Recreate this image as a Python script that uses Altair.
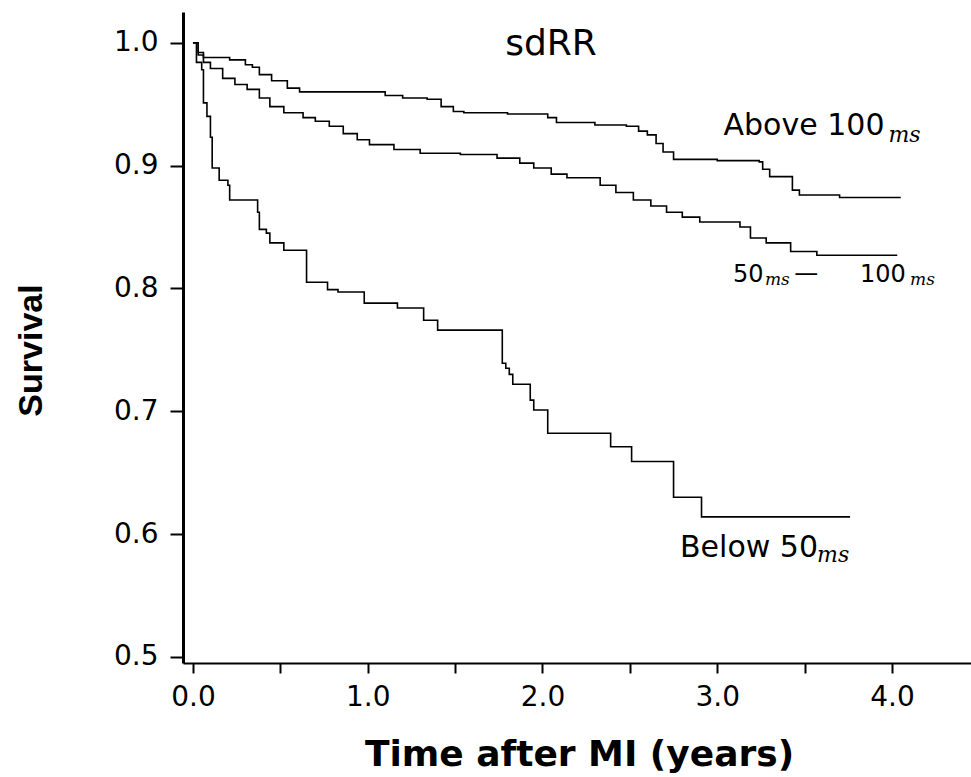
import altair as alt
import pandas as pd

# ---- data (time in years, survival fraction) ----
above_t = [0.00, 0.03, 0.06, 0.21, 0.30, 0.34, 0.38, 0.45, 0.54, 0.61, 1.01, 1.10, 1.20, 1.34,
           1.42, 1.49, 1.55, 1.80, 2.03, 2.08, 2.30, 2.48, 2.55, 2.60, 2.65, 2.69, 2.75, 3.00,
           3.24, 3.26, 3.30, 3.43, 3.47, 3.70, 4.05]
above_s = [1.000, 0.992, 0.988, 0.986, 0.982, 0.980, 0.974, 0.969, 0.963, 0.960, 0.960, 0.957,
           0.955, 0.954, 0.948, 0.944, 0.943, 0.942, 0.939, 0.935, 0.933, 0.932, 0.928, 0.925,
           0.918, 0.911, 0.905, 0.904, 0.903, 0.897, 0.891, 0.880, 0.876, 0.874, 0.874]

mid_t = [0.00, 0.03, 0.06, 0.10, 0.17, 0.24, 0.31, 0.38, 0.44, 0.52, 0.63, 0.70, 0.78, 0.86,
         0.94, 1.01, 1.15, 1.30, 1.53, 1.74, 1.87, 1.95, 2.05, 2.14, 2.33, 2.42, 2.52, 2.62,
         2.71, 2.80, 2.90, 3.13, 3.19, 3.28, 3.42, 3.57, 4.03]
mid_s = [1.000, 0.990, 0.984, 0.979, 0.971, 0.966, 0.962, 0.955, 0.948, 0.943, 0.939, 0.936,
         0.932, 0.926, 0.921, 0.917, 0.913, 0.910, 0.909, 0.906, 0.902, 0.898, 0.893, 0.890,
         0.884, 0.878, 0.872, 0.867, 0.862, 0.858, 0.854, 0.850, 0.841, 0.837, 0.830, 0.827,
         0.827]

below_t = [0.00, 0.02, 0.05, 0.06, 0.08, 0.10, 0.11, 0.15, 0.20, 0.21, 0.37, 0.38, 0.42, 0.44,
           0.52, 0.65, 0.77, 0.83, 0.98, 1.17, 1.32, 1.40, 1.77, 1.79, 1.81, 1.83, 1.93, 1.95,
           2.03, 2.39, 2.51, 2.75, 2.91, 3.76]
below_s = [1.000, 0.984, 0.978, 0.951, 0.940, 0.923, 0.898, 0.888, 0.884, 0.872, 0.862, 0.848,
           0.845, 0.837, 0.831, 0.805, 0.799, 0.797, 0.788, 0.784, 0.774, 0.766, 0.739, 0.735,
           0.730, 0.722, 0.709, 0.701, 0.682, 0.671, 0.659, 0.630, 0.614, 0.614]

x_tick_values = [0.0, 0.5, 1.0, 1.5, 2.0, 2.5, 3.0, 3.5, 4.0]
y_tick_values = [0.5, 0.6, 0.7, 0.8, 0.9, 1.0]

# annotation anchors (data units)
title_text = ["sdRR"]
title_t = [2.049]
title_s = [0.990]

main_labels = ["Above 100", "Below 50"]
main_t = [3.036, 2.787]
main_s = [0.925, 0.581]

mid_labels = ["50", "\u2014", "100"]
mid_lab_t = [3.090, 3.440, 3.817]
mid_lab_s = [0.805, 0.806, 0.805]

ms_big_t = [3.980, 3.571]
ms_big_s = [0.919, 0.577]
ms_small_t = [3.273, 4.103]
ms_small_s = [0.803, 0.803]

# ---- build tables ----
rows = []
for name, ts, ss in [("Above 100 ms", above_t, above_s),
                     ("50-100 ms", mid_t, mid_s),
                     ("Below 50 ms", below_t, below_s)]:
    for t, s in zip(ts, ss):
        rows.append({"group": name, "t": t, "s": s})
df = pd.DataFrame(rows)

xscale = alt.Scale(domain=[-0.057, 4.452], nice=False, zero=False)
yscale = alt.Scale(domain=[0.495, 1.025], nice=False, zero=False)

x_axis = alt.Axis(
    values=x_tick_values,
    labelExpr="datum.value % 1 === 0 ? format(datum.value, '.1f') : ''",
    title="Time after MI (years)",
    grid=False, domainColor="black", domainWidth=2,
    tickColor="black", tickWidth=2, tickSize=10,
    labelFont="DejaVu Sans", labelFontSize=28, labelColor="black",
    labelPadding=10, labelFlush=False,
    titleFont="DejaVu Sans", titleFontWeight="bold", titleFontSize=36,
    titleColor="black", titleX=396, titleY=102, titleBaseline="alphabetic",
)
y_axis = alt.Axis(
    values=y_tick_values, format=".1f", title="Survival",
    grid=False, domainColor="black", domainWidth=3,
    tickColor="black", tickWidth=2, tickSize=13,
    labelFont="DejaVu Sans", labelFontSize=28, labelColor="black",
    labelPadding=12, labelFlush=False,
    titleFont="Liberation Sans", titleFontWeight="bold", titleFontSize=34,
    titleColor="black", titleAngle=270, titleX=-152, titleY=338,
    titleBaseline="middle", titleAlign="center",
)

X = alt.X("t:Q", scale=xscale, axis=x_axis)
Y = alt.Y("s:Q", scale=yscale, axis=y_axis)

lines = alt.Chart(df).mark_line(
    interpolate="step-after", color="black", strokeWidth=1.6
).encode(x=X, y=Y, detail="group:N")


def text_layer(texts, ts, ss, **mark_kw):
    d = pd.DataFrame({"text": texts, "t": ts, "s": ss})
    return alt.Chart(d).mark_text(color="black", **mark_kw).encode(
        x=X, y=Y, text="text:N",
    )


t_title = text_layer(title_text, title_t, title_s, font="DejaVu Sans", fontSize=36,
                     align="center", baseline="alphabetic")
t_main = text_layer(main_labels, main_t, main_s, font="DejaVu Sans", fontSize=30,
                    align="left", baseline="alphabetic")
t_mid = text_layer(mid_labels, mid_lab_t, mid_lab_s, font="DejaVu Sans", fontSize=24,
                   align="left", baseline="alphabetic")
t_ms_big = text_layer(["ms", "ms"], ms_big_t, ms_big_s, font="DejaVu Serif", fontSize=22,
                      fontStyle="italic", align="left", baseline="alphabetic")
t_ms_small = text_layer(["ms", "ms"], ms_small_t, ms_small_s, font="DejaVu Serif", fontSize=17,
                        fontStyle="italic", align="left", baseline="alphabetic")

chart = alt.layer(lines, t_title, t_main, t_mid, t_ms_big, t_ms_small).properties(
    width=788, height=651,
    padding={"left": 183, "top": 12, "right": 0, "bottom": 114},
    autosize="none",
    background="white",
).configure_view(stroke=None)

chart.save("out.html", embed_options={"renderer": "svg", "actions": False})
